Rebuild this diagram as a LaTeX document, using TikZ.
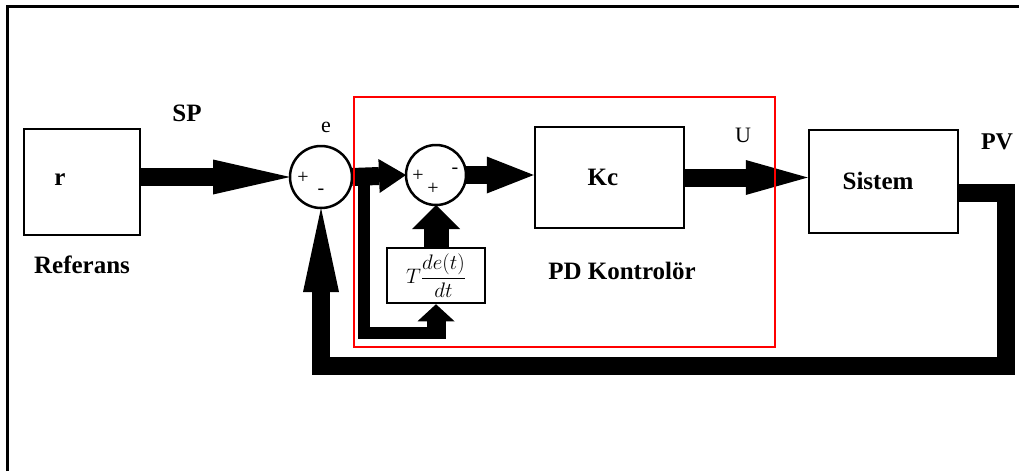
\documentclass[tikz,border=0pt]{standalone}
\usepackage{fix-cm}
\usepackage{fontspec}
\setmainfont{Liberation Serif}
\usetikzlibrary{arrows.meta}
\begin{document}
\begin{tikzpicture}[x=1pt,y=-1pt,
  box/.style={draw, line width=2.5pt, inner sep=0pt},
  sumnode/.style={draw, circle, line width=2.5pt, minimum size=62pt, inner sep=0pt, outer sep=0pt},
  lbl/.style={font=\fontsize{25}{30}\selectfont\bfseries, inner sep=0pt},
  sml/.style={font=\fontsize{22}{26}\selectfont, inner sep=0pt},
  sgn/.style={font=\fontsize{20}{24}\selectfont, inner sep=0pt},
  flow/.style={line width=18pt, line join=miter},
  frame/.style={line width=2.5pt},
]
\useasboundingbox (0,0) rectangle (1019,471);
% outer frame (top and left only)
\draw[frame] (7.5,471) -- (7.5,6.5) -- (1019,6.5);

% blocks
\node[box, minimum width=116pt, minimum height=106pt] (r) at (82,182) {};
\node[lbl] (rt) at (60,180) {r};
\node[lbl] (ref) at (82,265) {Referans};
\node[lbl] (sp) at (187,113) {SP};

\node[sumnode] (s1) at (321,177) {};
\node[sml] (e) at (326,127) {e};
\node[sgn] (p1) at (303,178) {+};
\node[sgn] (m1) at (321,192) {-};

\node[sumnode, minimum size=60pt] (s2) at (436,175) {};
\node[sgn] (p2) at (418,176) {+};
\node[sgn] (p3) at (433,189) {+};
\node[sgn] (m2) at (455,171) {-};

\node[box, minimum width=98pt, minimum height=55pt, font=\fontsize{21}{24}\selectfont] (der) at (436,275.5) {$\displaystyle T\frac{de(t)}{dt}$};

\node[box, minimum width=149pt, minimum height=101pt] (kc) at (609.5,177.5) {};
\node[lbl] (kct) at (603,177) {Kc};
\node[lbl] (pd) at (622,271) {PD Kontrolör};
\node[sml] (u) at (743,135) {U};

\node[box, minimum width=149pt, minimum height=103pt] (sys) at (883.5,181.5) {};
\node[lbl] (syst) at (878,181) {Sistem};
\node[lbl, font=\fontsize{24}{28}\selectfont\bfseries] (pv) at (997,142) {PV};

% connectors
\draw[flow, -{Triangle[length=77pt,width=35pt,line width=0pt]}] (r.east |- s1) -- (s1.west);
\draw[flow, -{Triangle[length=27pt,width=34pt,line width=0pt]}] (s1.east) -- (s2.west);
\draw[flow, -{Triangle[length=47pt,width=37pt,line width=0pt]}] (s2.east) -- (s2.east -| kc.west);
\draw[flow, -{Triangle[length=62pt,width=35pt,line width=0pt]}] (kc.east) -- (kc.east -| sys.west);

\coordinate (b) at (364,177);
\coordinate (b1) at (364,333);
\coordinate (b2) at (432,333);
\coordinate (d1) at (436,338.5);
\draw[line width=12pt, line join=miter] (b) -- (b1) -- (b2);
\draw[line width=19pt, -{Triangle[length=17pt,width=37pt,line width=0pt]}] (d1) -- (der.south);
\draw[line width=25pt, -{Triangle[length=24pt,width=48pt,line width=0pt]}] (der.north) -- (s2.south);

\coordinate (f1) at (1006,192.5);
\coordinate (f2) at (1006,366);
\draw[flow, -{Triangle[length=84pt,width=36pt,line width=0pt]}] ([yshift=-11pt]sys.east) -- (f1) -- (f2) -- (f2 -| s1) -- (s1.south);

% PD controller frame
\draw[red, line width=2pt] (354,97) rectangle (775,347);
\end{tikzpicture}
\end{document}
